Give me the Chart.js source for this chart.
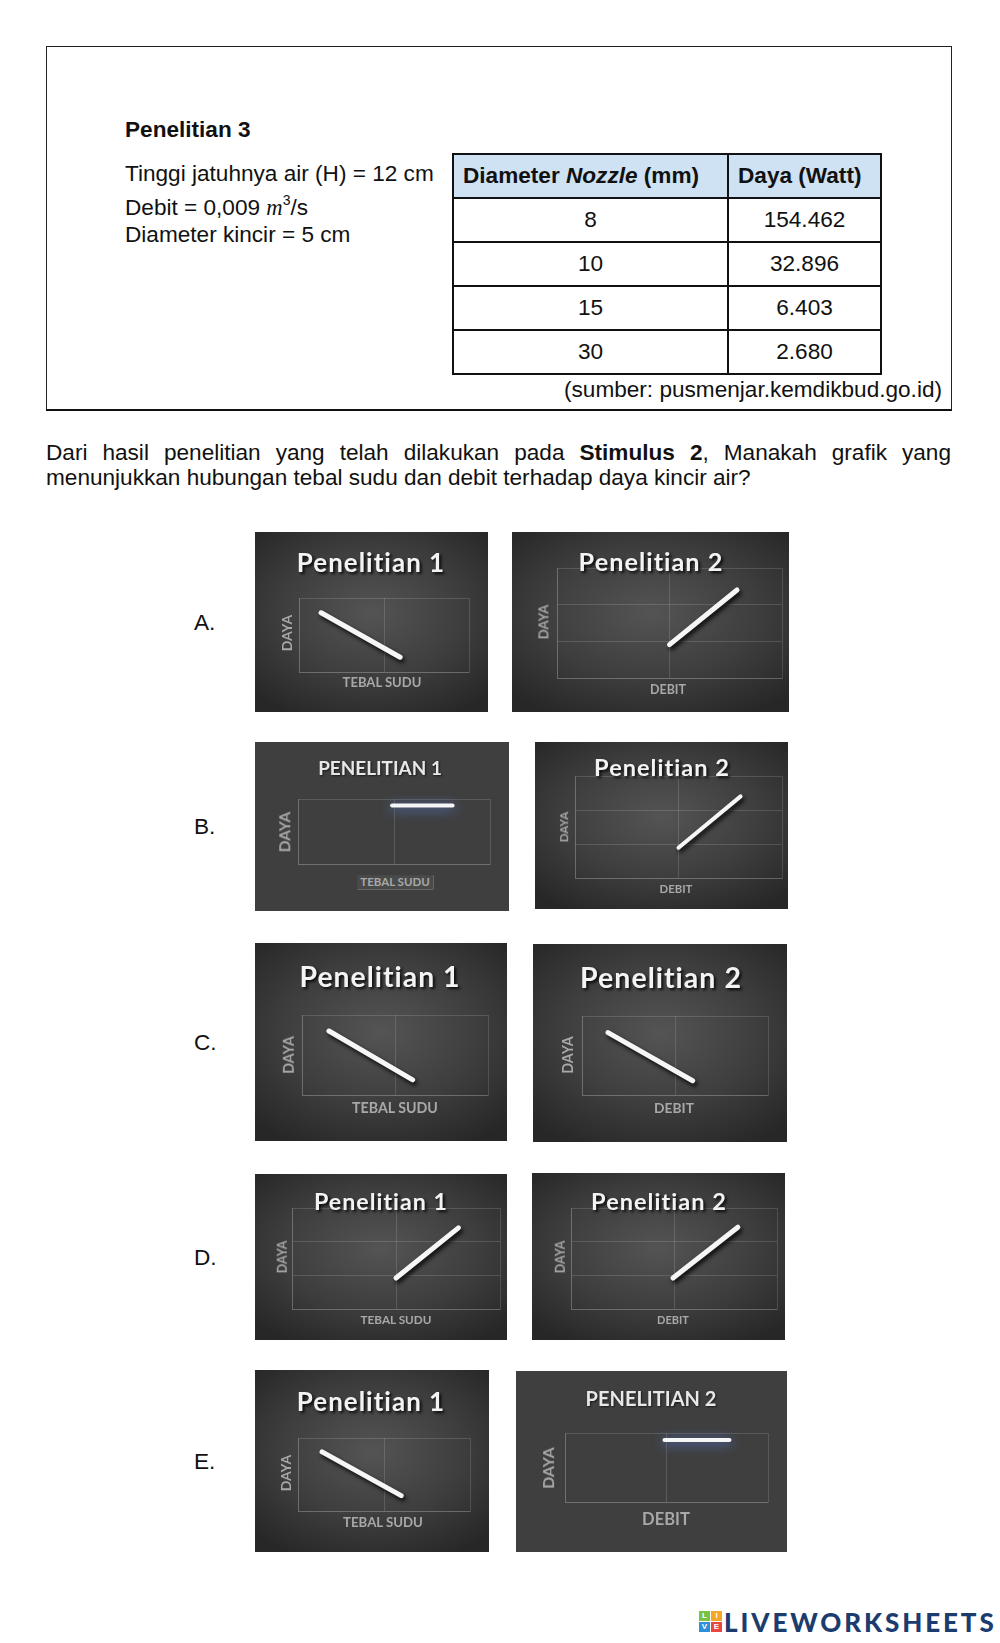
<!DOCTYPE html>
<html lang="id">
<head>
<meta charset="utf-8">
<title>Penelitian 3 - grafik daya kincir air</title>
<script src="https://cdn.jsdelivr.net/npm/chart.js@4.4.1/dist/chart.umd.min.js"></script>
<style>
  html, body { margin: 0; padding: 0; background: #fff; }
  body {
    position: relative; width: 1000px; height: 1643px; overflow: hidden;
    font-family: "Liberation Sans", Arial, sans-serif; font-size: 22.6px; color: #111;
  }
  .txt { position: absolute; white-space: nowrap; line-height: 26px; }
  .box {
    position: absolute; left: 46px; top: 46px; width: 904px; height: 362px;
    border: 1px solid #222; border-bottom: 2px solid #111;
  }
  #tabel {
    position: absolute; left: 452px; top: 153px; width: 428px;
    border-collapse: collapse; table-layout: fixed; font-size: 22.6px;
  }
  #tabel tr { height: 44px; }
  #tabel td { border: 2px solid #111; padding: 0 9px; }
  #tabel tr.head td { background: #cfe2f3; font-weight: bold; }
  #tabel td.c { text-align: center; }
  .card { position: absolute; overflow: hidden; }
  .card.grad { background: radial-gradient(ellipse 70% 65% at 50% 45%, #545454 0%, #3e3e3e 55%, #272727 100%); }
  .card.flat { background: #3f3f3f; }
  .card canvas { position: absolute; left: 0; top: 0; }
  .lbl {
    position: absolute; white-space: nowrap; line-height: 1;
    font-family: Lato, "Open Sans", sans-serif; font-weight: 700;
  }
  .ttl { color: #f3f3f3; letter-spacing: 1px; text-shadow: 2px 2px 3px rgba(0,0,0,0.85); }
  .ttl.caps { letter-spacing: 0; color: #e8e8e8; text-shadow: 1px 1px 2px rgba(0,0,0,0.6); }
  .ax { color: #a8a8a8; }
  .ax.boxed { background: #4a4a4a; padding: 1px 3px; }
  .logo-icon { position: absolute; left: 699px; top: 1611px; width: 24px; height: 22px; }
  .logo-icon span {
    position: absolute; width: 11px; height: 10px; color: #fff;
    font: bold 8px/10px "Liberation Sans", sans-serif; text-align: center;
  }
  .logo {
    position: absolute; left: 724px; top: 1608px; line-height: 28px; white-space: nowrap;
    font-family: Lato, sans-serif; font-weight: 900; font-size: 26px; letter-spacing: 2.9px; color: #1d3c6e;
  }
</style>
</head>
<body>

<div class="box"></div>
<div class="txt" style="left:125px; top:117px; font-weight:bold;">Penelitian 3</div>
<div class="txt" style="left:125px; top:161px;">Tinggi jatuhnya air (H) = 12 cm</div>
<div class="txt" style="left:125px; top:195px;">Debit = 0,009 <span style="font-family:'Liberation Serif', serif; font-style:italic;">m</span><sup style="font-size:14px; vertical-align:10px; line-height:0;">3</sup>/s</div>
<div class="txt" style="left:125px; top:222px;">Diameter kincir = 5 cm</div>
<table id="tabel">
  <colgroup><col style="width:275px"><col style="width:153px"></colgroup>
</table>
<div class="txt" style="right:58px; top:377px;">(sumber: pusmenjar.kemdikbud.go.id)</div>

<div class="txt" style="left:46px; top:440px; width:905px; white-space:normal; text-align:justify; text-align-last:justify;">Dari hasil penelitian yang telah dilakukan pada <b>Stimulus 2</b>, Manakah grafik yang</div>
<div class="txt" style="left:46px; top:465px;">menunjukkan hubungan tebal sudu dan debit terhadap daya kincir air?</div>

<div class="txt" style="left:194px; top:610px;">A.</div>
<div class="txt" style="left:194px; top:814px;">B.</div>
<div class="txt" style="left:194px; top:1030px;">C.</div>
<div class="txt" style="left:194px; top:1245px;">D.</div>
<div class="txt" style="left:194px; top:1449px;">E.</div>

<div class="logo-icon">
  <span style="left:0; top:0; background:#7cc242;">L</span>
  <span style="left:12px; top:0; background:#f5a623;">I</span>
  <span style="left:0; top:11px; background:#2f8fd8;">V</span>
  <span style="left:12px; top:11px; background:#e8463e;">E</span>
</div>
<div class="logo">LIVEWORKSHEETS</div>

<script>
// Tabel Penelitian 3
const nozzleMm = [8, 10, 15, 30];
const dayaWatt = ['154.462', '32.896', '6.403', '2.680'];

// Grafik pilihan jawaban: posisi sumbu X (tebal sudu / debit) dan daya
const optA1X = [0.26, 1.19], optA1Y = [0.8, 0.2];
const optA2X = [1.0, 1.6],   optA2Y = [0.91, 2.4];
const optB1X = [0.98, 1.61], optB1Y = [0.9, 0.9];
const optB2X = [1.0, 1.6],   optB2Y = [0.89, 2.4];
const optC1X = [0.29, 1.19], optC1Y = [0.8, 0.19];
const optC2X = [0.28, 1.19], optC2Y = [0.79, 0.18];
const optD1X = [1.0, 1.6],   optD1Y = [0.92, 2.41];
const optD2X = [0.99, 1.62], optD2Y = [0.92, 2.43];
const optE1X = [0.28, 1.2],  optE1Y = [0.81, 0.21];
const optE2X = [0.98, 1.62], optE2Y = [0.9, 0.9];

// Build table rows
const tabel = document.getElementById('tabel');
let rows = '<tr class="head"><td>Diameter <i>Nozzle</i> (mm)</td><td>Daya (Watt)</td></tr>';
nozzleMm.forEach((n, i) => {
    rows += `<tr><td class="c">${n}</td><td class="c">${dayaWatt[i]}</td></tr>`;
});
tabel.insertAdjacentHTML('beforeend', rows);

// Layout of each small chart (page coordinates): card box, plot area, text centres and widths
const cards = [
    { box: [255, 532, 233, 180], plot: [299, 598, 469, 672], rows: 1, style: 'grad',
      title: ['Penelitian 1', 371, 562, 152], yl: [287, 633, 37], xl: ['TEBAL SUDU', 382, 683, 79],
      xs: optA1X, ys: optA1Y, lw: 5 },
    { box: [512, 532, 277, 180], plot: [557, 568, 782, 678], rows: 3, style: 'grad',
      title: ['Penelitian 2', 651, 562, 148], yl: [544, 622, 35], xl: ['DEBIT', 668, 690, 36],
      xs: optA2X, ys: optA2Y, lw: 5 },
    { box: [255, 742, 254, 169], plot: [298, 799, 490, 864], rows: 1, style: 'flat', glow: true, caps: true,
      title: ['PENELITIAN 1', 380, 768, 124], yl: [285, 832, 41], xl: ['TEBAL SUDU', 395, 882, 73], boxed: true,
      xs: optB1X, ys: optB1Y, lw: 4 },
    { box: [535, 742, 253, 167], plot: [575, 776, 782, 878], rows: 3, style: 'grad',
      title: ['Penelitian 2', 662, 768, 138], yl: [564, 827, 31], xl: ['DEBIT', 676, 889, 33],
      xs: optB2X, ys: optB2Y, lw: 4 },
    { box: [255, 943, 252, 198], plot: [302, 1015, 488, 1095], rows: 1, style: 'grad',
      title: ['Penelitian 1', 380, 976, 166], yl: [289, 1055, 38], xl: ['TEBAL SUDU', 395, 1108, 86],
      xs: optC1X, ys: optC1Y, lw: 5 },
    { box: [533, 944, 254, 198], plot: [582, 1016, 768, 1095], rows: 1, style: 'grad',
      title: ['Penelitian 2', 661, 977, 167], yl: [568, 1055, 38], xl: ['DEBIT', 674, 1108, 40],
      xs: optC2X, ys: optC2Y, lw: 5 },
    { box: [255, 1174, 252, 166], plot: [292, 1208, 500, 1309], rows: 3, style: 'grad',
      title: ['Penelitian 1', 381, 1202, 136], yl: [283, 1257, 33], xl: ['TEBAL SUDU', 396, 1320, 71],
      xs: optD1X, ys: optD1Y, lw: 5 },
    { box: [532, 1173, 253, 167], plot: [571, 1208, 777, 1309], rows: 3, style: 'grad',
      title: ['Penelitian 2', 659, 1202, 138], yl: [561, 1257, 33], xl: ['DEBIT', 673, 1320, 32],
      xs: optD2X, ys: optD2Y, lw: 5 },
    { box: [255, 1370, 234, 182], plot: [298, 1438, 470, 1511], rows: 1, style: 'grad',
      title: ['Penelitian 1', 371, 1401, 152], yl: [286, 1473, 37], xl: ['TEBAL SUDU', 383, 1523, 80],
      xs: optE1X, ys: optE1Y, lw: 5 },
    { box: [516, 1371, 271, 181], plot: [565, 1433, 768, 1502], rows: 1, style: 'flat', glow: true, caps: true,
      title: ['PENELITIAN 2', 651, 1398, 131], yl: [548, 1468, 42], xl: ['DEBIT', 666, 1519, 48],
      xs: optE2X, ys: optE2Y, lw: 4 },
];

const gridColor = 'rgba(255, 255, 255, 0.14)';

// Shadow / glow under the chalk-like line
const lineShadow = {
    id: 'lineShadow',
    beforeDatasetsDraw(chart, args, opts) {
        const ctx = chart.ctx;
        ctx.save();
        ctx.shadowColor = opts.color;
        ctx.shadowBlur = opts.blur;
        ctx.shadowOffsetX = opts.dx;
        ctx.shadowOffsetY = opts.dy;
    },
    afterDatasetsDraw(chart) {
        chart.ctx.restore();
    }
};

// Text label sized so it spans the given width
function addLabel(card, cls, text, cx, cy, width, rotate) {
    const el = document.createElement('div');
    el.className = 'lbl ' + cls;
    el.textContent = text;
    el.style.fontSize = '20px';
    card.appendChild(el);
    el.style.fontSize = (20 * width / el.offsetWidth).toFixed(2) + 'px';
    el.style.left = cx + 'px';
    el.style.top = cy + 'px';
    el.style.transform = 'translate(-50%, -50%)' + (rotate ? ' rotate(-90deg)' : '');
}

cards.forEach(c => {
    const [bx, by, bw, bh] = c.box;
    const [pl, pt, pr, pb] = c.plot;

    const card = document.createElement('div');
    card.className = 'card ' + c.style;
    card.style.left = bx + 'px';
    card.style.top = by + 'px';
    card.style.width = bw + 'px';
    card.style.height = bh + 'px';
    document.body.appendChild(card);

    const cv = document.createElement('canvas');
    cv.width = bw;
    cv.height = bh;
    cv.style.width = bw + 'px';
    cv.style.height = bh + 'px';
    card.appendChild(cv);

    addLabel(card, 'ttl' + (c.caps ? ' caps' : ''), c.title[0], c.title[1] - bx, c.title[2] - by, c.title[3], false);
    addLabel(card, 'ax', 'DAYA', c.yl[0] - bx, c.yl[1] - by, c.yl[2], true);
    addLabel(card, 'ax' + (c.boxed ? ' boxed' : ''), c.xl[0], c.xl[1] - bx, c.xl[2] - by, c.xl[3], false);

    new Chart(cv, {
        type: 'line',
        data: {
            datasets: [{
                data: c.xs.map((x, i) => ({ x: x, y: c.ys[i] })),
                borderColor: '#f6f6f6',
                borderWidth: c.lw,
                borderCapStyle: 'round',
                pointRadius: 0,
                clip: false,
            }],
        },
        options: {
            responsive: false,
            animation: false,
            events: [],
            layout: { padding: { left: pl - bx, top: pt - by, right: bx + bw - pr, bottom: by + bh - pb } },
            plugins: {
                legend: { display: false },
                tooltip: { enabled: false },
                lineShadow: c.glow
                    ? { color: 'rgba(90, 130, 220, 0.95)', blur: 12, dx: 0, dy: 2 }
                    : { color: 'rgba(0, 0, 0, 0.85)', blur: 4, dx: 2, dy: 3 },
            },
            scales: {
                x: {
                    type: 'linear', min: 0, max: 2,
                    ticks: { display: false, stepSize: 1 },
                    grid: { color: gridColor, drawTicks: false },
                    border: { color: gridColor },
                },
                y: {
                    type: 'linear', min: 0, max: c.rows,
                    ticks: { display: false, stepSize: 1 },
                    grid: { color: gridColor, drawTicks: false },
                    border: { color: gridColor },
                },
            },
        },
        plugins: [lineShadow],
    });
});
</script>
</body>
</html>
